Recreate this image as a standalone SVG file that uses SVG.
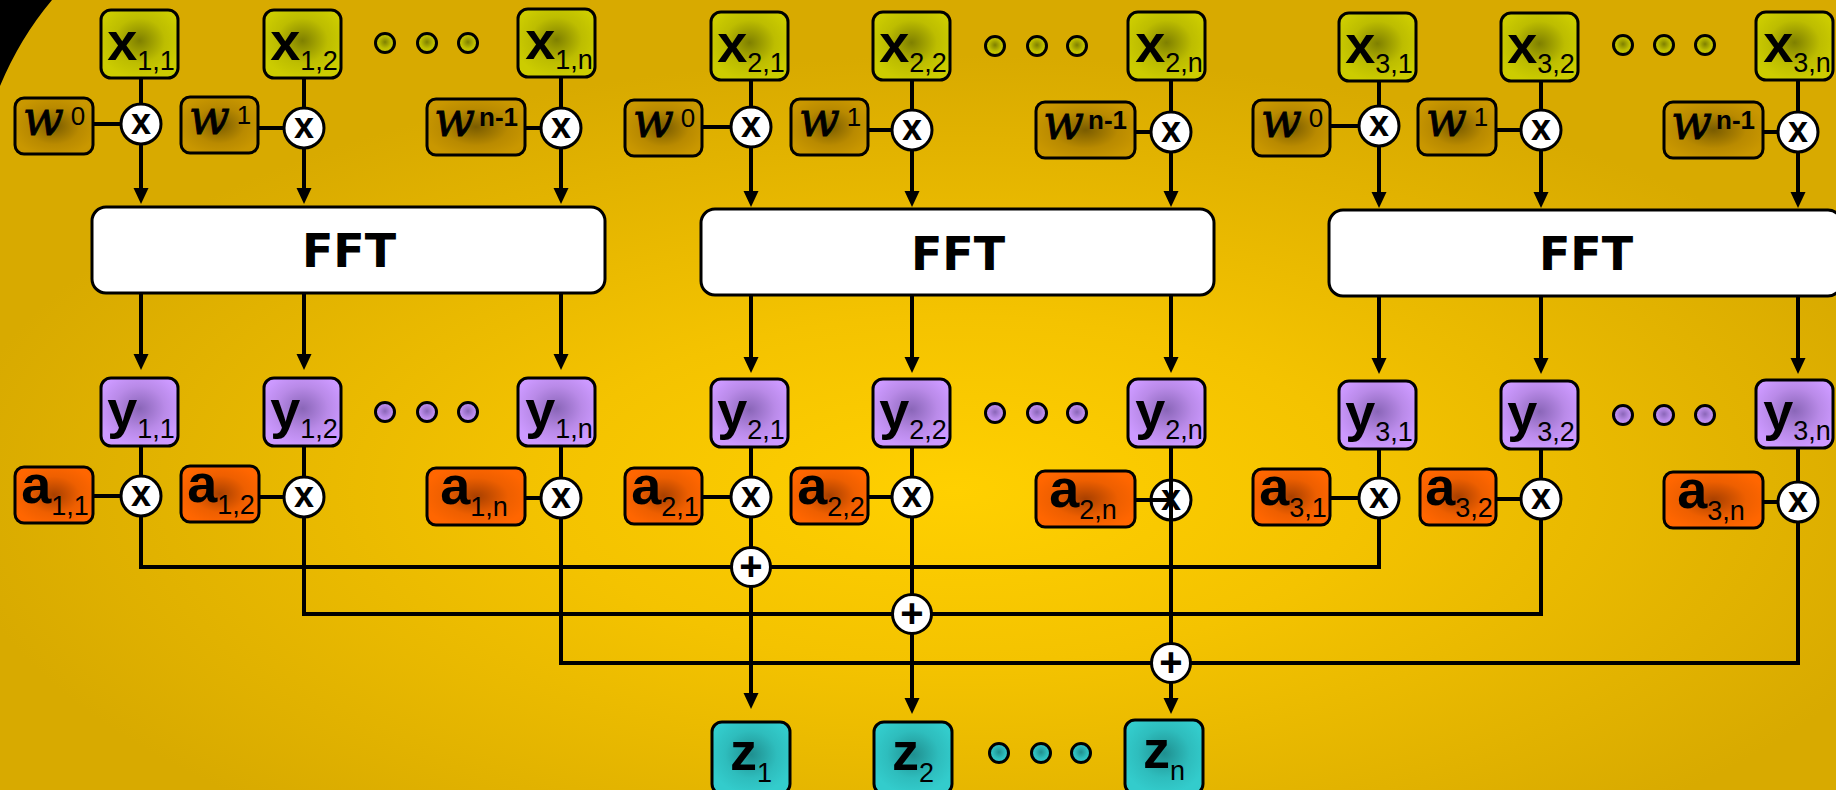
<svg xmlns="http://www.w3.org/2000/svg" width="1836" height="790" viewBox="0 0 1836 790">
<style>
.bx{stroke:#000;stroke-width:3}
.op{fill:#fff;stroke:#000;stroke-width:3}
.ln{fill:none;stroke:#000;stroke-width:4}
.ar{marker-end:url(#arr)}
.fb{fill:#fff;stroke:#000;stroke-width:3}
.t{font-family:"Liberation Sans",Arial,sans-serif;font-weight:bold;font-size:54px;text-anchor:middle;fill:#000}
.sb{font-weight:normal;font-size:27px}
.wt{font-family:"DejaVu Serif","Liberation Serif",serif;font-style:italic;font-weight:normal;font-size:48px;text-anchor:middle;fill:#000;stroke:#000;stroke-width:0.8}
.sp{font-family:"Liberation Sans",Arial,sans-serif;font-style:normal;font-weight:normal;font-size:26px;stroke:none}
.spb{font-family:"Liberation Sans",Arial,sans-serif;font-style:normal;font-weight:bold;font-size:26px;stroke:none}
.ox{font-family:"Liberation Sans",Arial,sans-serif;font-weight:bold;font-size:36px;text-anchor:middle;fill:#000}
.pl{font-family:"Liberation Sans",Arial,sans-serif;font-weight:bold;font-size:40px;text-anchor:middle;fill:#000}
.fft{font-family:"DejaVu Sans","Liberation Sans",sans-serif;font-weight:bold;font-size:46px;text-anchor:middle;fill:#000}
</style>
<defs>
<radialGradient id="bg" cx="0.52" cy="0.62" r="0.55">
<stop offset="0" stop-color="#ffd000"/><stop offset="0.4" stop-color="#f4c300"/><stop offset="1" stop-color="#d8aa00"/>
</radialGradient>
<radialGradient id="gx" cx="0.5" cy="0.45" r="0.55"><stop offset="0" stop-color="#7f8000"/><stop offset="0.6" stop-color="#bdbd00"/><stop offset="1" stop-color="#cccc00"/></radialGradient>
<radialGradient id="gw" cx="0.5" cy="0.5" r="0.55"><stop offset="0" stop-color="#7a5c00"/><stop offset="0.6" stop-color="#b98a00"/><stop offset="1" stop-color="#c99700"/></radialGradient>
<radialGradient id="gy" cx="0.5" cy="0.45" r="0.55"><stop offset="0" stop-color="#8a66b8"/><stop offset="0.6" stop-color="#b98ae8"/><stop offset="1" stop-color="#cc99ff"/></radialGradient>
<radialGradient id="ga" cx="0.5" cy="0.5" r="0.55"><stop offset="0" stop-color="#a84000"/><stop offset="0.6" stop-color="#ee5f00"/><stop offset="1" stop-color="#ff6600"/></radialGradient>
<radialGradient id="gz" cx="0.5" cy="0.45" r="0.55"><stop offset="0" stop-color="#1f8f8f"/><stop offset="0.6" stop-color="#2ebdbd"/><stop offset="1" stop-color="#33cccc"/></radialGradient>
<marker id="arr" viewBox="0 0 16 16" refX="8" refY="8" markerWidth="16" markerHeight="16" markerUnits="userSpaceOnUse" orient="auto"><path d="M0,0.5 L16,8 L0,15.5 z" fill="#000"/></marker>
</defs>
<rect width="1836" height="790" fill="url(#bg)"/>
<path d="M0,0 H52 Q20,38 0,86 Z" fill="#000"/>

<g id="connectors" class="ln">
<path d="M141,79 V104 M93,124 H121"/><path class="ar" d="M141,144 V196"/>
<path d="M304,79 V108 M258,128 H284"/><path class="ar" d="M304,148 V196"/>
<path d="M561,78 V108 M525,128 H541"/><path class="ar" d="M561,148 V196"/>
<path class="ar" d="M141,293 V362"/><path class="ar" d="M304,293 V362"/><path class="ar" d="M561,293 V362"/>
<path d="M141,446 V476 M93,496 H121"/>
<path d="M304,446 V477 M259,497 H284"/>
<path d="M561,446 V478 M525,498 H541"/>

<path d="M751,80 V107 M702,127 H731"/><path class="ar" d="M751,147 V199"/>
<path d="M912,80 V110 M868,130 H892"/><path class="ar" d="M912,150 V199"/>
<path d="M1171,80 V112 M1135,132 H1151"/><path class="ar" d="M1171,152 V199"/>
<path class="ar" d="M751,295 V365"/><path class="ar" d="M912,295 V365"/><path class="ar" d="M1171,295 V365"/>
<path d="M751,447 V477 M702,497 H731"/>
<path d="M912,447 V477 M868,497 H892"/>
<path class="ar" d="M751,517 V701"/><path class="ar" d="M912,517 V706"/><path class="ar" d="M1171,520 V706"/>

<path d="M1379,81 V106 M1330,126 H1359"/><path class="ar" d="M1379,146 V200"/>
<path d="M1541,81 V110 M1496,130 H1521"/><path class="ar" d="M1541,150 V200"/>
<path d="M1798,80 V112 M1763,132 H1778"/><path class="ar" d="M1798,152 V200"/>
<path class="ar" d="M1379,296 V366"/><path class="ar" d="M1541,296 V366"/><path class="ar" d="M1798,296 V366"/>
<path d="M1379,449 V478 M1330,498 H1359"/>
<path d="M1541,449 V479 M1496,499 H1521"/>
<path d="M1798,448 V482 M1763,502 H1778"/>

<path d="M141,516 V567 H1379 V518"/>
<path d="M304,517 V614 H1541 V519"/>
<path d="M561,518 V663 H1798 V522"/>
</g>

<!-- Group 1 -->
<g id="x11"><rect class="bx" x="101" y="10" width="77" height="68" rx="10" fill="url(#gx)"/><text class="t" x="141" y="60">x<tspan class="sb" dy="10">1,1</tspan></text></g>
<g id="x12"><rect class="bx" x="264" y="10" width="77" height="68" rx="10" fill="url(#gx)"/><text class="t" x="304" y="60">x<tspan class="sb" dy="10">1,2</tspan></text></g>
<g id="x1dots" fill="url(#gx)" class="bx"><circle cx="385" cy="43" r="9.5"/><circle cx="427" cy="43" r="9.5"/><circle cx="468" cy="43" r="9.5"/></g>
<g id="x1n"><rect class="bx" x="518" y="9" width="77" height="68" rx="10" fill="url(#gx)"/><text class="t" x="559" y="59">x<tspan class="sb" dy="10">1,n</tspan></text></g>
<g id="w10"><rect class="bx" x="15" y="98" width="78" height="56" rx="9" fill="url(#gw)"/><text class="wt" x="54" y="135">w<tspan class="sp" dx="7" dy="-10">0</tspan></text></g>
<g id="w11"><rect class="bx" x="181" y="97" width="77" height="56" rx="9" fill="url(#gw)"/><text class="wt" x="220" y="134">w<tspan class="sp" dx="7" dy="-10">1</tspan></text></g>
<g id="w1n"><rect class="bx" x="427" y="99" width="98" height="56" rx="9" fill="url(#gw)"/><text class="wt" x="476" y="136">w<tspan class="spb" dx="4" dy="-10">n-1</tspan></text></g>
<g id="m11"><circle class="op" cx="141" cy="124" r="20"/><text class="ox" x="141" y="134">x</text></g>
<g id="m12"><circle class="op" cx="304" cy="128" r="20"/><text class="ox" x="304" y="138">x</text></g>
<g id="m1n"><circle class="op" cx="561" cy="128" r="20"/><text class="ox" x="561" y="138">x</text></g>
<g id="fft1"><rect class="fb" x="92" y="207" width="513" height="86" rx="14"/><text class="fft" x="349" y="267">FFT</text></g>
<g id="y11"><rect class="bx" x="101" y="378" width="77" height="68" rx="10" fill="url(#gy)"/><text class="t" x="141" y="428">y<tspan class="sb" dy="10">1,1</tspan></text></g>
<g id="y12"><rect class="bx" x="264" y="378" width="77" height="68" rx="10" fill="url(#gy)"/><text class="t" x="304" y="428">y<tspan class="sb" dy="10">1,2</tspan></text></g>
<g id="y1dots" fill="url(#gy)" class="bx"><circle cx="385" cy="412" r="9.5"/><circle cx="427" cy="412" r="9.5"/><circle cx="468" cy="412" r="9.5"/></g>
<g id="y1n"><rect class="bx" x="518" y="378" width="77" height="68" rx="10" fill="url(#gy)"/><text class="t" x="559" y="428">y<tspan class="sb" dy="10">1,n</tspan></text></g>
<g id="a11"><rect class="bx" x="15" y="467" width="78" height="56" rx="9" fill="url(#ga)"/><text class="t" x="55" y="503">a<tspan class="sb" dy="12">1,1</tspan></text></g>
<g id="a12"><rect class="bx" x="181" y="466" width="78" height="56" rx="9" fill="url(#ga)"/><text class="t" x="221" y="502">a<tspan class="sb" dy="12">1,2</tspan></text></g>
<g id="a1n"><rect class="bx" x="427" y="468" width="98" height="57" rx="9" fill="url(#ga)"/><text class="t" x="474" y="504">a<tspan class="sb" dy="12">1,n</tspan></text></g>
<g id="n11"><circle class="op" cx="141" cy="496" r="20"/><text class="ox" x="141" y="506">x</text></g>
<g id="n12"><circle class="op" cx="304" cy="497" r="20"/><text class="ox" x="304" y="507">x</text></g>
<g id="n1n"><circle class="op" cx="561" cy="498" r="20"/><text class="ox" x="561" y="508">x</text></g>

<!-- Group 2 -->
<g id="x21"><rect class="bx" x="711" y="12" width="77" height="68" rx="10" fill="url(#gx)"/><text class="t" x="751" y="62">x<tspan class="sb" dy="10">2,1</tspan></text></g>
<g id="x22"><rect class="bx" x="873" y="12" width="77" height="68" rx="10" fill="url(#gx)"/><text class="t" x="913" y="62">x<tspan class="sb" dy="10">2,2</tspan></text></g>
<g id="x2dots" fill="url(#gx)" class="bx"><circle cx="995" cy="46" r="9.5"/><circle cx="1037" cy="46" r="9.5"/><circle cx="1077" cy="46" r="9.5"/></g>
<g id="x2n"><rect class="bx" x="1128" y="12" width="77" height="68" rx="10" fill="url(#gx)"/><text class="t" x="1169" y="62">x<tspan class="sb" dy="10">2,n</tspan></text></g>
<g id="w20"><rect class="bx" x="625" y="100" width="77" height="56" rx="9" fill="url(#gw)"/><text class="wt" x="664" y="137">w<tspan class="sp" dx="7" dy="-10">0</tspan></text></g>
<g id="w21"><rect class="bx" x="791" y="99" width="77" height="56" rx="9" fill="url(#gw)"/><text class="wt" x="830" y="136">w<tspan class="sp" dx="7" dy="-10">1</tspan></text></g>
<g id="w2n"><rect class="bx" x="1036" y="102" width="99" height="56" rx="9" fill="url(#gw)"/><text class="wt" x="1085" y="139">w<tspan class="spb" dx="4" dy="-10">n-1</tspan></text></g>
<g id="m21"><circle class="op" cx="751" cy="127" r="20"/><text class="ox" x="751" y="137">x</text></g>
<g id="m22"><circle class="op" cx="912" cy="130" r="20"/><text class="ox" x="912" y="140">x</text></g>
<g id="m2n"><circle class="op" cx="1171" cy="132" r="20"/><text class="ox" x="1171" y="142">x</text></g>
<g id="fft2"><rect class="fb" x="701" y="209" width="513" height="86" rx="14"/><text class="fft" x="958" y="270">FFT</text></g>
<g id="y21"><rect class="bx" x="711" y="379" width="77" height="68" rx="10" fill="url(#gy)"/><text class="t" x="751" y="429">y<tspan class="sb" dy="10">2,1</tspan></text></g>
<g id="y22"><rect class="bx" x="873" y="379" width="77" height="68" rx="10" fill="url(#gy)"/><text class="t" x="913" y="429">y<tspan class="sb" dy="10">2,2</tspan></text></g>
<g id="y2dots" fill="url(#gy)" class="bx"><circle cx="995" cy="413" r="9.5"/><circle cx="1037" cy="413" r="9.5"/><circle cx="1077" cy="413" r="9.5"/></g>
<g id="y2n"><rect class="bx" x="1128" y="379" width="77" height="68" rx="10" fill="url(#gy)"/><text class="t" x="1169" y="429">y<tspan class="sb" dy="10">2,n</tspan></text></g>
<g id="a21"><rect class="bx" x="625" y="468" width="77" height="56" rx="9" fill="url(#ga)"/><text class="t" x="665" y="504">a<tspan class="sb" dy="12">2,1</tspan></text></g>
<g id="a22"><rect class="bx" x="791" y="468" width="77" height="56" rx="9" fill="url(#ga)"/><text class="t" x="831" y="504">a<tspan class="sb" dy="12">2,2</tspan></text></g>
<g id="a2n"><rect class="bx" x="1036" y="471" width="99" height="56" rx="9" fill="url(#ga)"/><text class="t" x="1083" y="507">a<tspan class="sb" dy="12">2,n</tspan></text></g>
<g id="n21"><circle class="op" cx="751" cy="497" r="20"/><text class="ox" x="751" y="507">x</text></g>
<g id="n22"><circle class="op" cx="912" cy="497" r="20"/><text class="ox" x="912" y="507">x</text></g>
<g id="n2n"><circle class="op" cx="1171" cy="500" r="20"/><text class="ox" x="1171" y="510">x</text></g>
<g id="p1"><circle class="op" cx="751" cy="567" r="19.5"/><text class="pl" x="751" y="580">+</text></g>
<g id="p2"><circle class="op" cx="912" cy="614" r="19.5"/><text class="pl" x="912" y="627">+</text></g>
<g id="p3"><circle class="op" cx="1171" cy="663" r="19.5"/><text class="pl" x="1171" y="676">+</text></g>
<g id="z1"><rect class="bx" x="712" y="722" width="78" height="72" rx="10" fill="url(#gz)"/><text class="t" x="751" y="770">z<tspan class="sb" font-size="28" dy="12">1</tspan></text></g>
<g id="z2"><rect class="bx" x="874" y="722" width="78" height="72" rx="10" fill="url(#gz)"/><text class="t" x="913" y="770">z<tspan class="sb" font-size="28" dy="12">2</tspan></text></g>
<g id="zdots" fill="url(#gz)" class="bx"><circle cx="999" cy="753" r="9.5"/><circle cx="1041" cy="753" r="9.5"/><circle cx="1081" cy="753" r="9.5"/></g>
<g id="zn"><rect class="bx" x="1125" y="720" width="78" height="74" rx="10" fill="url(#gz)"/><text class="t" x="1164" y="768">z<tspan class="sb" font-size="28" dy="12">n</tspan></text></g>

<!-- Group 3 -->
<g id="x31"><rect class="bx" x="1339" y="13" width="77" height="68" rx="10" fill="url(#gx)"/><text class="t" x="1379" y="63">x<tspan class="sb" dy="10">3,1</tspan></text></g>
<g id="x32"><rect class="bx" x="1501" y="13" width="77" height="68" rx="10" fill="url(#gx)"/><text class="t" x="1541" y="63">x<tspan class="sb" dy="10">3,2</tspan></text></g>
<g id="x3dots" fill="url(#gx)" class="bx"><circle cx="1623" cy="45" r="9.5"/><circle cx="1664" cy="45" r="9.5"/><circle cx="1705" cy="45" r="9.5"/></g>
<g id="x3n"><rect class="bx" x="1756" y="12" width="77" height="68" rx="10" fill="url(#gx)"/><text class="t" x="1797" y="62">x<tspan class="sb" dy="10">3,n</tspan></text></g>
<g id="w30"><rect class="bx" x="1253" y="100" width="77" height="56" rx="9" fill="url(#gw)"/><text class="wt" x="1292" y="137">w<tspan class="sp" dx="7" dy="-10">0</tspan></text></g>
<g id="w31"><rect class="bx" x="1418" y="99" width="78" height="56" rx="9" fill="url(#gw)"/><text class="wt" x="1457" y="136">w<tspan class="sp" dx="7" dy="-10">1</tspan></text></g>
<g id="w3n"><rect class="bx" x="1664" y="102" width="99" height="56" rx="9" fill="url(#gw)"/><text class="wt" x="1713" y="139">w<tspan class="spb" dx="4" dy="-10">n-1</tspan></text></g>
<g id="m31"><circle class="op" cx="1379" cy="126" r="20"/><text class="ox" x="1379" y="136">x</text></g>
<g id="m32"><circle class="op" cx="1541" cy="130" r="20"/><text class="ox" x="1541" y="140">x</text></g>
<g id="m3n"><circle class="op" cx="1798" cy="132" r="20"/><text class="ox" x="1798" y="142">x</text></g>
<g id="fft3"><rect class="fb" x="1329" y="210" width="513" height="86" rx="14"/><text class="fft" x="1586" y="270">FFT</text></g>
<g id="y31"><rect class="bx" x="1339" y="381" width="77" height="68" rx="10" fill="url(#gy)"/><text class="t" x="1379" y="431">y<tspan class="sb" dy="10">3,1</tspan></text></g>
<g id="y32"><rect class="bx" x="1501" y="381" width="77" height="68" rx="10" fill="url(#gy)"/><text class="t" x="1541" y="431">y<tspan class="sb" dy="10">3,2</tspan></text></g>
<g id="y3dots" fill="url(#gy)" class="bx"><circle cx="1623" cy="415" r="9.5"/><circle cx="1664" cy="415" r="9.5"/><circle cx="1705" cy="415" r="9.5"/></g>
<g id="y3n"><rect class="bx" x="1756" y="380" width="77" height="68" rx="10" fill="url(#gy)"/><text class="t" x="1797" y="430">y<tspan class="sb" dy="10">3,n</tspan></text></g>
<g id="a31"><rect class="bx" x="1253" y="469" width="77" height="56" rx="9" fill="url(#ga)"/><text class="t" x="1293" y="505">a<tspan class="sb" dy="12">3,1</tspan></text></g>
<g id="a32"><rect class="bx" x="1420" y="469" width="76" height="56" rx="9" fill="url(#ga)"/><text class="t" x="1459" y="505">a<tspan class="sb" dy="12">3,2</tspan></text></g>
<g id="a3n"><rect class="bx" x="1664" y="472" width="99" height="56" rx="9" fill="url(#ga)"/><text class="t" x="1711" y="508">a<tspan class="sb" dy="12">3,n</tspan></text></g>
<g id="n31"><circle class="op" cx="1379" cy="498" r="20"/><text class="ox" x="1379" y="508">x</text></g>
<g id="n32"><circle class="op" cx="1541" cy="499" r="20"/><text class="ox" x="1541" y="509">x</text></g>
<g id="n3n"><circle class="op" cx="1798" cy="502" r="20"/><text class="ox" x="1798" y="512">x</text></g>

<g id="connectors-over" class="ln">
<path d="M1135,500 H1171 M1171,447 V520"/>
</g>
</svg>
